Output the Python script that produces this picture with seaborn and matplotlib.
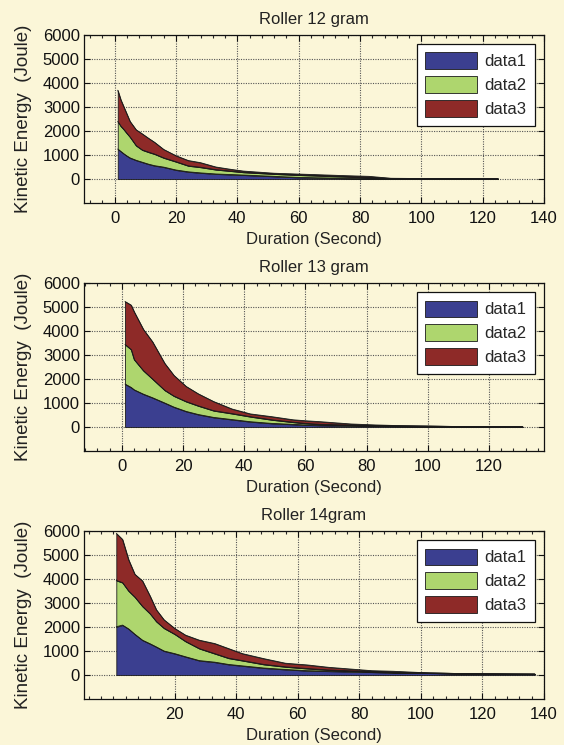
import numpy as np
import pandas as pd
import matplotlib
matplotlib.use("Agg")
import matplotlib.pyplot as plt
from matplotlib.ticker import MultipleLocator
import seaborn as sns

# ---------------- data ----------------
titles = ["Roller 12 gram", "Roller 13 gram", "Roller 14gram"]
series_names = ["data1", "data2", "data3"]

x_12 = [1, 2, 3, 4, 5, 7, 9, 11, 13, 16, 20, 24, 28, 33, 38, 42, 52, 59, 66, 75, 83, 90, 100, 110, 125]
d1_12 = [1250, 1150, 1050, 960, 880, 780, 700, 620, 555, 495, 375, 300, 255, 210, 185, 165, 110, 70, 50, 35, 25, 20, 15, 12, 10]
d2_12 = [1150, 1050, 1010, 940, 870, 610, 510, 500, 485, 385, 345, 250, 235, 180, 145, 115, 100, 100, 90, 65, 35, 5, 3, 2, 0]
d3_12 = [1300, 1100, 940, 800, 650, 660, 670, 580, 490, 350, 250, 220, 190, 110, 70, 50, 30, 40, 40, 40, 50, 5, 2, 1, 0]

x_13 = [1, 3, 4, 7, 10, 14, 17, 21, 25, 30, 36, 42, 49, 56, 60, 65, 75, 83, 90, 100, 110, 120, 131]
d1_13 = [1790, 1650, 1550, 1370, 1220, 1000, 830, 650, 520, 400, 310, 220, 150, 110, 85, 70, 50, 40, 35, 30, 20, 15, 10]
d2_13 = [1650, 1580, 1260, 980, 780, 530, 460, 410, 360, 280, 250, 210, 150, 90, 65, 40, 30, 20, 10, 5, 0, 0, 0]
d3_13 = [1790, 1850, 1990, 1720, 1550, 1120, 860, 630, 500, 380, 190, 115, 130, 100, 110, 110, 45, 25, 15, 5, 0, 0, 0]

x_14 = [1, 3, 5, 7, 9.5, 12, 14, 16.5, 20, 23.5, 28, 33, 37.5, 42, 49, 56, 63, 70, 77, 84, 91, 103, 115, 137]
d1_14 = [2010, 2080, 1920, 1700, 1450, 1300, 1170, 1000, 890, 760, 600, 535, 440, 380, 290, 230, 180, 160, 140, 120, 95, 80, 55, 40]
d2_14 = [1930, 1770, 1580, 1550, 1410, 1250, 1060, 950, 810, 640, 500, 355, 260, 220, 150, 110, 90, 50, 35, 30, 15, 5, 0, 0]
d3_14 = [1960, 1800, 1300, 950, 1060, 730, 490, 350, 240, 260, 350, 420, 400, 290, 240, 150, 150, 110, 75, 30, 45, 0, 0, 0]

xticks_12 = [0, 20, 40, 60, 80, 100, 120, 140]
xticks_13 = [0, 20, 40, 60, 80, 100, 120]
xticks_14 = [20, 40, 60, 80, 100, 120, 140]
yticks = [0, 1000, 2000, 3000, 4000, 5000, 6000]

panels = [
    (titles[0], x_12, [d1_12, d2_12, d3_12], xticks_12, (-10, 140)),
    (titles[1], x_13, [d1_13, d2_13, d3_13], xticks_13, (-12.4, 138)),
    (titles[2], x_14, [d1_14, d2_14, d3_14], xticks_14, (-9.5, 140)),
]

# ---------------- style ----------------
sns.set_style("ticks")
plt.rcParams["font.family"] = ["Liberation Sans", "DejaVu Sans"]

colors = ["#3b3f90", "#aed66e", "#8e2a28"]
bg = "#fbf6d8"

fig = plt.figure(figsize=(5.64, 7.45), dpi=100, facecolor=bg)
left, width, height = 84 / 564, 460 / 564, 168 / 745
bottoms = [1 - 203 / 745, 1 - 451 / 745, 1 - 699 / 745]

for (title, xs, layers, xt, xl), b in zip(panels, bottoms):
    ax = fig.add_axes([left, b, width, height])
    ax.set_facecolor(bg)
    ax.stackplot(xs, *layers, colors=colors, labels=series_names,
                 edgecolor="#1a1a1a", linewidth=0.6, zorder=3)
    # outline of the cumulative tops using seaborn
    cum = np.cumsum(np.array(layers, dtype=float), axis=0)
    for k in range(3):
        df = pd.DataFrame({"x": xs, "y": cum[k]})
        sns.lineplot(data=df, x="x", y="y", ax=ax, color="#1a1a1a",
                     linewidth=0.6, zorder=4, legend=False)
    ax.set_xlim(*xl)
    ax.set_ylim(-1000, 6000)
    ax.set_xticks(xt)
    ax.set_yticks(yticks)
    ax.xaxis.set_minor_locator(MultipleLocator(4))
    ax.grid(True, which="major", color="#555555", linestyle=(0, (1, 1.2)), linewidth=0.8, zorder=1)
    ax.tick_params(axis="both", which="major", direction="in", length=4, width=0.8,
                   top=True, right=True, labelsize=12, colors="#111111")
    ax.tick_params(axis="y", which="major", pad=3)
    ax.tick_params(axis="x", which="major", pad=6)
    ax.tick_params(axis="x", which="minor", direction="in", length=2, width=0.8,
                   top=True, bottom=True)
    for sp in ax.spines.values():
        sp.set_visible(True)
        sp.set_color("#111111")
        sp.set_linewidth(0.9)
    ax.set_title(title, fontsize=12, pad=8, color="#222222")
    ax.set_xlabel("Duration (Second)", fontsize=12, labelpad=4, color="#222222")
    ax.set_ylabel("Kinetic Energy  (Joule)", fontsize=13.5, labelpad=8, color="#222222")
    leg = ax.legend(loc="upper right", fontsize=12, handlelength=3.1, handleheight=1.15,
                    borderaxespad=0.55, labelspacing=0.42, handletextpad=0.45,
                    fancybox=False, framealpha=1, facecolor="white", edgecolor="#111111",
                    borderpad=0.5)
    leg.get_frame().set_linewidth(0.9)
    leg.set_zorder(10)

fig.savefig("out.png", dpi=100, facecolor=bg)
